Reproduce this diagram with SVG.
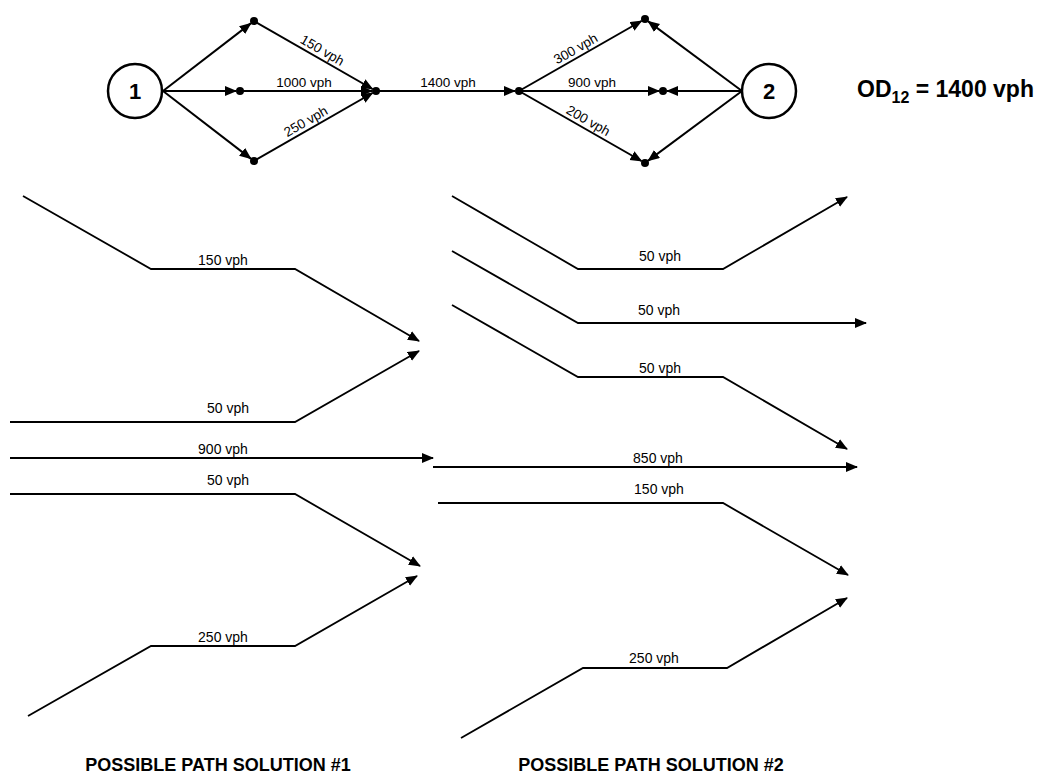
<svg xmlns="http://www.w3.org/2000/svg" width="1041" height="773" viewBox="0 0 1041 773">
<style>
.ln{fill:none;stroke:#000;stroke-width:2;marker-end:url(#ah)}
.pa{fill:none;stroke:#000;stroke-width:1.8;marker-end:url(#ah)}
.nd{fill:#fff;stroke:#000;stroke-width:2.5}
.dot{fill:#000}
.lb{font-family:"Liberation Sans",Arial,sans-serif;font-size:13.5px;fill:#000;text-anchor:middle}
.pb{font-family:"Liberation Sans",Arial,sans-serif;font-size:14px;fill:#000;text-anchor:middle}
.nt{font-family:"Liberation Sans",Arial,sans-serif;font-size:22px;font-weight:bold;fill:#000;text-anchor:middle}
.tt{font-family:"Liberation Sans",Arial,sans-serif;font-size:18px;font-weight:bold;fill:#000;text-anchor:middle}
.od{font-family:"Liberation Sans",Arial,sans-serif;font-size:23px;font-weight:bold;fill:#000}
</style>
<defs>
<marker id="ah" markerUnits="userSpaceOnUse" markerWidth="13" markerHeight="11" refX="11" refY="5" orient="auto">
<path d="M0,0 L12,5 L0,10 z" fill="#000"/>
</marker>
</defs>
<rect width="1041" height="773" fill="#fff"/>

<g id="connectors">
<line class="ln" x1="163" y1="91" x2="250.8" y2="23.4"/>
<line class="ln" x1="163" y1="91" x2="236" y2="91"/>
<line class="ln" x1="163" y1="91" x2="250.8" y2="158.6"/>
<line class="ln" x1="254" y1="21" x2="372.5" y2="89"/>
<line class="ln" x1="240" y1="91" x2="372" y2="91"/>
<line class="ln" x1="254" y1="161" x2="372.5" y2="93"/>
<line class="ln" x1="376" y1="91" x2="515" y2="91"/>
<line class="ln" x1="519" y1="91" x2="641.5" y2="21"/>
<line class="ln" x1="519" y1="91" x2="659" y2="91"/>
<line class="ln" x1="519" y1="91" x2="641.5" y2="161"/>
<line class="ln" x1="742" y1="91" x2="648.2" y2="21.4"/>
<line class="ln" x1="742" y1="91" x2="667" y2="91"/>
<line class="ln" x1="742" y1="91" x2="648.2" y2="160.6"/>
<text class="lb" x="320" y="54.2" transform="rotate(29.8 320 54.2)">150 vph</text>
<text class="lb" x="304" y="87">1000 vph</text>
<text class="lb" x="308" y="125.4" transform="rotate(-29.8 308 125.4)">250 vph</text>
<text class="lb" x="448" y="87">1400 vph</text>
<text class="lb" x="578" y="52.7" transform="rotate(-29.7 578 52.7)">300 vph</text>
<text class="lb" x="592" y="87">900 vph</text>
<text class="lb" x="586" y="124.6" transform="rotate(29.7 586 124.6)">200 vph</text>
</g>

<g id="node1">
<circle class="nd" cx="135" cy="91" r="27"/>
<text class="nt" x="135" y="99">1</text>
</g>
<g id="node2">
<circle class="nd" cx="769" cy="91" r="27"/>
<text class="nt" x="769" y="99">2</text>
</g>
<g id="dot-a"><circle class="dot" cx="254" cy="21" r="4"/></g>
<g id="dot-b"><circle class="dot" cx="240" cy="91" r="4"/></g>
<g id="dot-c"><circle class="dot" cx="254" cy="161" r="4"/></g>
<g id="dot-m"><circle class="dot" cx="376" cy="91" r="4"/></g>
<g id="dot-d"><circle class="dot" cx="519" cy="91" r="4"/></g>
<g id="dot-e"><circle class="dot" cx="645" cy="19" r="4"/></g>
<g id="dot-f"><circle class="dot" cx="663" cy="91" r="4"/></g>
<g id="dot-g"><circle class="dot" cx="645" cy="163" r="4"/></g>

<g id="od-label">
<text class="od" x="857" y="97">OD<tspan font-size="16" dy="6">12</tspan><tspan dy="-6"> = 1400 vph</tspan></text>
</g>

<g id="solution1">
<path class="pa" d="M23,196 L151,269 L295,269 L419,341"/>
<text class="pb" x="223" y="265">150 vph</text>
<path class="pa" d="M10,422 L295,422 L419,351"/>
<text class="pb" x="228" y="413">50 vph</text>
<path class="pa" d="M10,458 L433,458"/>
<text class="pb" x="223" y="454">900 vph</text>
<path class="pa" d="M10,494 L295,494 L420,566"/>
<text class="pb" x="228" y="485">50 vph</text>
<path class="pa" d="M28,716 L151,646 L295,646 L417,576"/>
<text class="pb" x="223" y="642">250 vph</text>
<text class="tt" x="218" y="771">POSSIBLE PATH SOLUTION #1</text>
</g>

<g id="solution2">
<path class="pa" d="M452,196 L578,269 L723,269 L847,197"/>
<text class="pb" x="660" y="261">50 vph</text>
<path class="pa" d="M452,251 L578,323 L866,323"/>
<text class="pb" x="659" y="315">50 vph</text>
<path class="pa" d="M452,305 L578,377 L723,377 L847,449"/>
<text class="pb" x="660" y="373">50 vph</text>
<path class="pa" d="M433,467 L857,467"/>
<text class="pb" x="658" y="463">850 vph</text>
<path class="pa" d="M438,503 L723,503 L848,575"/>
<text class="pb" x="659" y="494">150 vph</text>
<path class="pa" d="M461,738 L583,668 L727,668 L847,598"/>
<text class="pb" x="654" y="663">250 vph</text>
<text class="tt" x="651" y="771">POSSIBLE PATH SOLUTION #2</text>
</g>
</svg>
